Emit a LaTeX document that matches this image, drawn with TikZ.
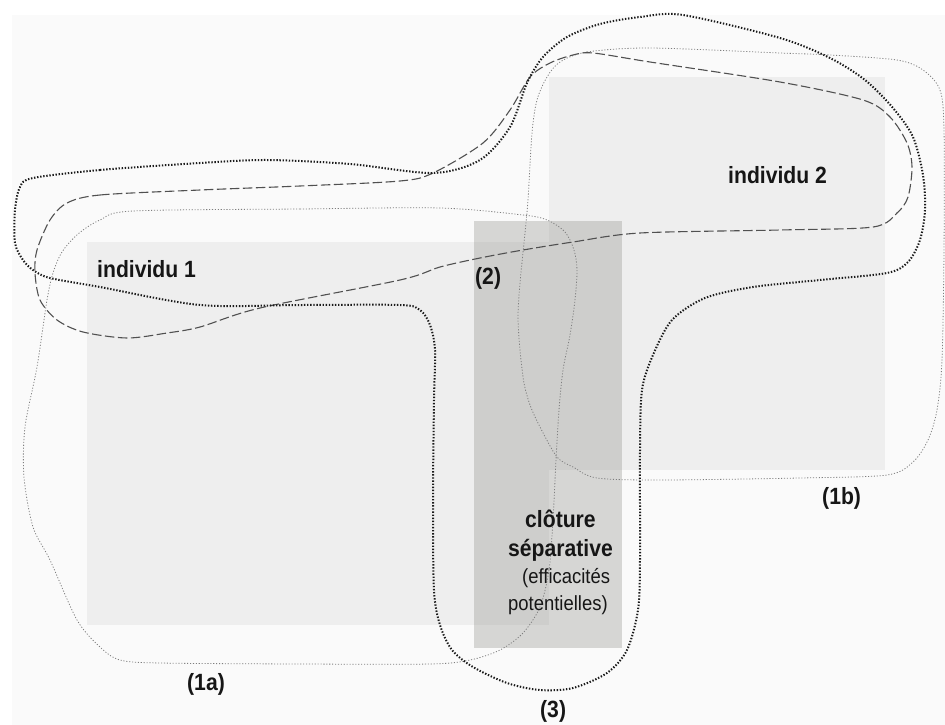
\documentclass[tikz,border=0pt]{standalone}
\usepackage{fontspec}
\usepackage{tikz}
\usepackage{xcolor}
\usetikzlibrary{positioning}
\newfontfamily\etiqfont{Liberation Sans}[FakeStretch=0.9]
\definecolor{Plan_Fond}{HTML}{FAFAFA}
\definecolor{Plan_Indiv}{HTML}{EEEEEE}
\definecolor{Plan_Cloture}{HTML}{8E8E88}
\definecolor{Plan_Texte}{HTML}{161616}
\definecolor{Plan_Points}{HTML}{1A1A1A}
\definecolor{Plan_Tirets}{HTML}{505050}
\definecolor{Plan_Fin}{HTML}{7E7E7E}

\begin{document}
\begin{tikzpicture}[x=1pt, y=-1pt,
    gras/.style={font=\etiqfont\bfseries\fontsize{23.5}{27}\selectfont, text=Plan_Texte, inner sep=0pt, anchor=base west},
    maigre/.style={font=\etiqfont\fontsize{20.5}{24}\selectfont, text=Plan_Texte, inner sep=0pt, anchor=base west},
    contour fin/.style={Plan_Fin, line width=0.8pt, dash pattern=on 1.1pt off 1.8pt},
    contour tirets/.style={Plan_Tirets, line width=1.1pt, dash pattern=on 9.5pt off 3.5pt},
    contour points/.style={Plan_Points, line width=2pt, dash pattern=on 1.4pt off 1.7pt}]
    \useasboundingbox (0,0) rectangle (945,725);
    \fill[white] (0,0) rectangle (945,725);
    \fill[Plan_Fond] (12,15) rectangle (945,725);

    % Individus
    \fill[Plan_Indiv] (87,242) rectangle (549,625);
    \fill[Plan_Indiv] (549,77) rectangle (885,470);

    % Cloture
    \fill[Plan_Cloture, opacity=0.33] (474,221) rectangle (622,648);

    % (1a)
    \draw[contour fin] plot[smooth cycle, tension=0.5] coordinates {
        (133,211) (300,209) (440,208) (523,215) (547,220) (565,232) (574,250)
        (577,270) (575,300) (570,335) (563,370) (559,410) (556,460) (553,520)
        (549,570) (540,607) (523,633) (500,650) (470,660) (430,664) (300,664)
        (160,663) (120,660) (100,647) (77,620) (50,560) (33,527) (24,477)
        (25,427) (37,367) (47,300) (53,273) (62,252) (78,234) (100,220)};

    % (1b)
    \draw[contour fin] plot[smooth cycle, tension=0.5] coordinates {
        (560,62) (587,52) (650,48) (780,53) (830,55) (897,60) (923,70) (940,90)
        (944,130) (944,250) (942,360) (937,410) (928,440) (913,462) (887,475)
        (800,478) (660,480) (597,478) (573,467) (557,457) (540,427) (530,405)
        (524,383) (520,350) (518,317) (520,283) (525,233) (528,200) (532,133)
        (537,100) (547,77)};

    % (2)
    \draw[contour tirets] plot[smooth cycle, tension=0.5] coordinates {
        (67,203) (100,195) (200,190) (300,186) (400,181) (433,173) (483,143)
        (510,110) (530,77) (550,63) (573,55) (593,53) (650,62) (780,82)
        (863,100) (890,117) (907,143) (912,167) (908,197) (897,213) (873,227)
        (780,230) (640,233) (573,242) (523,250) (480,258) (440,267) (400,280)
        (260,308) (200,327) (167,333) (127,338) (83,332) (57,320) (40,300)
        (35,273) (37,250) (50,220)};

    % (3)
    \draw[contour points] plot[smooth cycle, tension=0.5] coordinates {
        (33,178) (100,170) (200,163) (267,160) (350,164) (433,173) (480,160)
        (510,127) (527,83) (543,57) (567,37) (600,24) (640,17) (683,15)
        (780,38) (830,58) (865,80) (893,108) (913,137) (923,175) (925,210)
        (920,240) (908,262) (887,273) (820,280) (753,287) (705,298) (672,320)
        (653,355) (642,390) (640,450) (640,560) (638,610) (627,650) (607,673)
        (573,688) (540,690) (507,683) (473,667) (452,650) (440,625) (434,590)
        (433,500) (434,400) (435,350) (430,325) (420,310) (400,305) (300,305)
        (200,305) (100,287) (50,278) (33,270) (23,260) (15,243) (15,210)
        (20,187)};

    % Textes
    \node[gras] (indA) at (97,277) {individu 1};
    \node[gras] (indB) at (728,183) {individu 2};
    \node[gras] (zoneDeux) at (475,284) {(2)};
    \node[gras] (zoneUnA) at (187,690) {(1a)};
    \node[gras] (zoneUnB) at (822,504) {(1b)};
    \node[gras] (zoneTrois) at (540,717) {(3)};
    \node[gras] (clotA) at (525,527) {clôture};
    \node[gras] (clotB) at (508,556) {séparative};
    \node[maigre] (clotC) at (522,583) {(efficacités};
    \node[maigre] (clotD) at (508,610) {potentielles)};
\end{tikzpicture}
\end{document}
